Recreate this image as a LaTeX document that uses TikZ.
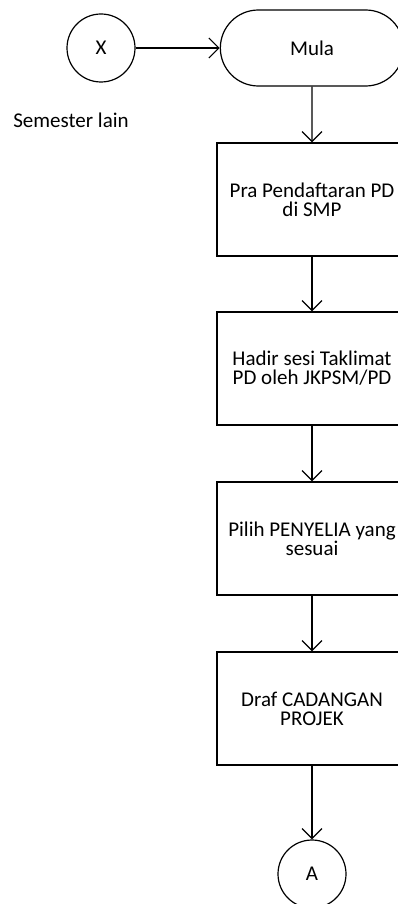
\documentclass[tikz,border=0pt]{standalone}
\usepackage{fontspec}
\setmainfont{Carlito}
\usepackage{tikz}
\usetikzlibrary{shapes.misc,arrows.meta}
\tikzstyle{flowfont} = [
    font=\fontsize{21}{19}\selectfont
    ]
\tikzstyle{stepbox} = [
    draw=black,
    fill=white,
    line width=1.2pt,
    rectangle,
    minimum width=190pt,
    minimum height=113pt,
    align=center,
    flowfont
    ]
\tikzstyle{startbox} = [
    draw=black,
    fill=white,
    line width=1.2pt,
    rounded rectangle,
    minimum width=190pt,
    minimum height=76pt,
    flowfont
    ]
\tikzstyle{joinpoint} = [
    draw=black,
    fill=white,
    line width=1.2pt,
    circle,
    minimum size=68pt,
    inner sep=0pt,
    flowfont
    ]
\tikzstyle{flowline} = [
    line width=1.2pt,
    -{Straight Barb[length=10pt,width=20pt]}
    ]

\begin{document}
\begin{tikzpicture}[x=1pt,y=-1pt]
\useasboundingbox [fill=white] (0,0) rectangle (397,904);
\node [joinpoint] (x) at (101,48) {X};
\node [startbox] (mula) at (312,48) {Mula};
\node [flowfont] (lain) at (71,120) {Semester lain};
\node [stepbox] (pra) at (312,199.5) {Pra Pendaftaran PD\\di SMP};
\node [stepbox] (hadir) at (312,368.5) {Hadir sesi Taklimat\\PD oleh JKPSM/PD};
\node [stepbox] (pilih) at (312,538.5) {Pilih PENYELIA yang\\sesuai};
\node [stepbox] (draf) at (312,708.5) {Draf CADANGAN\\PROJEK};
\node [joinpoint] (a) at (312,874) {A};
\draw [flowline] (x) -- (mula);
\draw [flowline] (mula) -- (pra);
\draw [flowline] (pra) -- (hadir);
\draw [flowline] (hadir) -- (pilih);
\draw [flowline] (pilih) -- (draf);
\draw [flowline] (draf) -- (a);
\end{tikzpicture}
\end{document}
